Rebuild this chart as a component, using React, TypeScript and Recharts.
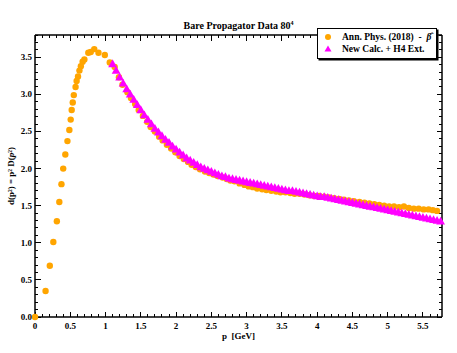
import { ScatterChart, Scatter, XAxis, YAxis, Legend, Label } from 'recharts';

const FONT = '"Liberation Serif", "Times New Roman", serif';
const ORANGE = '#FFA500';
const MAGENTA = '#FF00FF';

// Ann. Phys. (2018) - beta hat
const annMomentum = [
  0, 0.15, 0.21, 0.26, 0.31, 0.345, 0.375, 0.4, 0.43, 0.46, 0.487, 0.506, 0.52, 0.535, 0.55, 0.575,
  0.59, 0.61, 0.63, 0.65, 0.675, 0.7, 0.756, 0.79, 0.84, 0.9, 0.99, 1.06, 1.13, 1.19, 1.24, 1.31,
  1.36, 1.42, 1.47, 1.53, 1.59, 1.64, 1.7, 1.76, 1.81, 1.87, 1.93, 1.99, 2.05, 2.11, 2.17, 2.22,
  2.28, 2.34, 2.41, 2.47, 2.53, 2.59, 2.66, 2.72, 2.77, 2.83, 2.9, 2.97, 3.03, 3.09, 3.15, 3.22,
  3.28, 3.35, 3.42, 3.48, 3.55, 3.62, 3.68, 3.75, 3.82, 3.89, 3.96, 4.03, 4.1, 4.17, 4.24, 4.31,
  4.38, 4.45, 4.52, 4.6, 4.67, 4.74, 4.81, 4.88, 4.95, 5.02, 5.09, 5.16, 5.23, 5.3, 5.37, 5.44,
  5.51, 5.58, 5.64, 5.7,
];
const annDressing = [
  0, 0.35, 0.69, 1.01, 1.29, 1.55, 1.79, 2.0, 2.19, 2.37, 2.52, 2.66, 2.79, 2.89, 2.99, 3.1,
  3.18, 3.24, 3.32, 3.38, 3.44, 3.47, 3.56, 3.57, 3.61, 3.56, 3.53, 3.43, 3.37, 3.23, 3.13, 3.03,
  2.95, 2.87, 2.79, 2.71, 2.63, 2.56, 2.5, 2.43, 2.38, 2.32, 2.27, 2.22, 2.17, 2.13, 2.09, 2.05,
  2.02, 1.99, 1.96, 1.94, 1.92, 1.9, 1.88, 1.86, 1.84, 1.83, 1.8, 1.78, 1.76, 1.75, 1.73, 1.72,
  1.71, 1.7, 1.69, 1.68, 1.68, 1.67, 1.66, 1.66, 1.65, 1.64, 1.63, 1.63, 1.62, 1.61, 1.6, 1.59,
  1.58, 1.57, 1.56, 1.55, 1.54, 1.53, 1.52, 1.51, 1.5, 1.49, 1.49, 1.48, 1.49, 1.47, 1.46, 1.46,
  1.45, 1.45, 1.44, 1.43,
];

// New Calc. + H4 Ext.
const newMomentum = [
  1.1, 1.15, 1.2, 1.25, 1.3, 1.35, 1.4, 1.45, 1.5, 1.55, 1.6, 1.65, 1.7, 1.75, 1.8, 1.85, 1.9, 1.95,
  2.0, 2.05, 2.1, 2.15, 2.2, 2.25, 2.3, 2.35, 2.4, 2.45, 2.5, 2.55, 2.6, 2.65, 2.7, 2.75, 2.8, 2.85,
  2.9, 2.95, 3.0, 3.05, 3.1, 3.15, 3.2, 3.25, 3.3, 3.35, 3.4, 3.45, 3.5, 3.55, 3.6, 3.65, 3.7, 3.75,
  3.8, 3.85, 3.9, 3.95, 4.0, 4.05, 4.1, 4.15, 4.2, 4.25, 4.3, 4.35, 4.4, 4.45, 4.5, 4.55, 4.6, 4.65,
  4.7, 4.75, 4.8, 4.85, 4.9, 4.95, 5.0, 5.05, 5.1, 5.15, 5.2, 5.25, 5.3, 5.35, 5.4, 5.45, 5.5, 5.55,
  5.6, 5.65, 5.7, 5.75,
];
const newDressing = [
  3.41, 3.32, 3.23, 3.15, 3.07, 3.0, 2.93, 2.86, 2.79, 2.72, 2.66, 2.6, 2.54, 2.49, 2.44, 2.39, 2.35, 2.3,
  2.26, 2.22, 2.18, 2.14, 2.11, 2.08, 2.05, 2.02, 2.0, 1.98, 1.96, 1.94, 1.92, 1.9, 1.89, 1.87, 1.86, 1.85,
  1.84, 1.83, 1.82, 1.81, 1.8, 1.79, 1.78, 1.77, 1.76, 1.75, 1.74, 1.73, 1.72, 1.71, 1.7, 1.7, 1.69, 1.68,
  1.67, 1.66, 1.65, 1.64, 1.63, 1.62, 1.62, 1.61, 1.6, 1.59, 1.58, 1.57, 1.56, 1.55, 1.54, 1.53, 1.52, 1.51,
  1.5, 1.49, 1.48, 1.47, 1.46, 1.45, 1.44, 1.43, 1.42, 1.41, 1.4, 1.39, 1.38, 1.37, 1.36, 1.35, 1.34, 1.33,
  1.32, 1.31, 1.3, 1.29,
];

const xMajorTicks = [0, 0.5, 1, 1.5, 2, 2.5, 3, 3.5, 4, 4.5, 5, 5.5];
const yMajorTicks = [0, 0.5, 1, 1.5, 2, 2.5, 3, 3.5];
const X_MAX = 5.77;
const Y_MAX = 3.8;

// minor ticks every 0.1
const minorSteps = (max: number) => {
  const out: number[] = [];
  for (let i = 0; i * 0.1 <= max + 1e-9; i++) out.push(Math.round(i) / 10);
  return out;
};
const xTicks = minorSteps(X_MAX);
const yTicks = minorSteps(Y_MAX);

const annData = annMomentum.map((p, i) => ({ p, d: annDressing[i] }));
const newData = newMomentum.map((p, i) => ({ p, d: newDressing[i] }));

const isMajor = (v: number, majors: number[]) => majors.some((m) => Math.abs(m - v) < 1e-6);

type Side = 'bottom' | 'top' | 'left' | 'right';

// tick labels (major values only)
const makeTick = (side: Side, majors: number[], fmt: (v: number) => string) => (props: any) => {
  const { payload } = props;
  const x = Number(props.x);
  const y = Number(props.y);
  if (!isMajor(payload.value, majors)) return <g />;
  if (side === 'bottom')
    return (
      <text x={x} y={y + 12} textAnchor="middle" fontSize={9} fontWeight="bold" fontFamily={FONT} fill="#000">
        {fmt(payload.value)}
      </text>
    );
  return (
    <text x={x - 3} y={y + 3} textAnchor="end" fontSize={9} fontWeight="bold" fontFamily={FONT} fill="#000">
      {fmt(payload.value)}
    </text>
  );
};

// inward tick marks, drawn along the axis box that Recharts hands to the label
const tickMarks = (side: Side, vb: any) => {
  const vals = side === 'bottom' || side === 'top' ? xTicks : yTicks;
  const majors = side === 'bottom' || side === 'top' ? xMajorTicks : yMajorTicks;
  return (
    <g stroke="#000" strokeWidth={1} shapeRendering="crispEdges">
      {vals.map((v) => {
        const len = isMajor(v, majors) ? 5.5 : 3;
        if (side === 'bottom' || side === 'top') {
          const x = vb.x + (v / X_MAX) * vb.width;
          const y0 = side === 'bottom' ? vb.y : vb.y + vb.height;
          const y1 = side === 'bottom' ? y0 - len : y0 + len;
          return <line key={v} x1={x} x2={x} y1={y0} y2={y1} />;
        }
        const y = vb.y + vb.height - (v / Y_MAX) * vb.height;
        const x0 = side === 'left' ? vb.x + vb.width : vb.x;
        const x1 = side === 'left' ? x0 + len : x0 - len;
        return <line key={v} x1={x0} x2={x1} y1={y} y2={y} />;
      })}
    </g>
  );
};

const Circle = (props: any) => <circle cx={props.cx} cy={props.cy} r={3.2} fill={ORANGE} />;

const Triangle = (props: any) => {
  const { cx, cy } = props;
  return <polygon points={`${cx},${cy - 4.6} ${cx - 4.4},${cy + 3.2} ${cx + 4.4},${cy + 3.2}`} fill={MAGENTA} />;
};

const LegendBox = () => (
  <div
    style={{
      width: 118,
      height: 27,
      border: '1px solid #000',
      boxShadow: '1.5px 1.5px 0 #000',
      background: '#fff',
      fontFamily: FONT,
      fontWeight: 'bold',
      fontSize: 9.5,
      lineHeight: '12px',
      padding: '2px 0 0 0',
      boxSizing: 'content-box',
    }}
  >
    <div style={{ display: 'flex', alignItems: 'center', height: 12 }}>
      <svg width={24} height={12}>
        <circle cx={10} cy={6} r={3} fill={ORANGE} />
      </svg>
      <span style={{ whiteSpace: 'pre' }}>
        Ann. Phys. (2018)  -  <i>β̂</i>
      </span>
    </div>
    <div style={{ display: 'flex', alignItems: 'center', height: 12 }}>
      <svg width={24} height={12}>
        <polygon points="10,2.5 6.5,8.5 13.5,8.5" fill={MAGENTA} />
      </svg>
      <span>New Calc. + H4 Ext.</span>
    </div>
  </div>
);

const axisLine = { stroke: '#000', strokeWidth: 1.5 };

export default function App() {
  return (
    <div style={{ position: 'absolute', left: 0, top: 0, width: 457, height: 353, background: '#fff' }}>
      <ScatterChart width={457} height={353} margin={{ top: 34, right: 14, bottom: 0, left: 0 }}>
        <XAxis
          dataKey="p"
          type="number"
          domain={[0, X_MAX]}
          ticks={xTicks}
          interval={0}
          height={36}
          tickSize={0}
          tickMargin={0}
          tickLine={false}
          axisLine={axisLine}
          tick={makeTick('bottom', xMajorTicks, (v) => String(v))}
        >
          <Label
            content={(p: any) => {
              const vb = p.viewBox;
              return (
                <g>
                  {tickMarks('bottom', vb)}
                  <text x={vb.x + vb.width / 2} y={vb.y + 22} textAnchor="middle" fontSize={9} fontWeight="bold" fontFamily={FONT} style={{ whiteSpace: 'pre' }}>
                    {'p  [GeV]'}
                  </text>
                </g>
              );
            }}
          />
        </XAxis>
        <XAxis
          xAxisId="top"
          dataKey="p"
          orientation="top"
          type="number"
          domain={[0, X_MAX]}
          ticks={xTicks}
          interval={0}
          height={1}
          tickSize={0}
          tickMargin={0}
          tickLine={false}
          tick={false}
          axisLine={axisLine}
        >
          <Label
            content={(p: any) => {
              const vb = p.viewBox;
              return (
                <g>
                  {tickMarks('top', vb)}
                  <text x={vb.x + vb.width / 2} y={vb.y - 5} textAnchor="middle" fontSize={10} fontWeight="bold" fontFamily={FONT}>
                    Bare Propagator Data 80
                    <tspan dy={-4} fontSize={6}>4</tspan>
                  </text>
                </g>
              );
            }}
          />
        </XAxis>
        <YAxis
          dataKey="d"
          type="number"
          domain={[0, Y_MAX]}
          ticks={yTicks}
          interval={0}
          width={35}
          tickSize={0}
          tickMargin={0}
          tickLine={false}
          axisLine={axisLine}
          tick={makeTick('left', yMajorTicks, (v) => v.toFixed(1))}
        >
          <Label
            content={(p: any) => {
              const vb = p.viewBox;
              const cx = vb.x + 11;
              const cy = vb.y + vb.height / 2;
              return (
                <g>
                  {tickMarks('left', vb)}
                  <text
                    x={cx}
                    y={cy}
                    transform={`rotate(-90 ${cx} ${cy})`}
                    textAnchor="middle"
                    dominantBaseline="central"
                    fontSize={9}
                    fontWeight="bold"
                    fontFamily={FONT}
                  >
                    d(p²) = p² D(<tspan fontStyle="italic">p</tspan>²)
                  </text>
                </g>
              );
            }}
          />
        </YAxis>
        <YAxis
          yAxisId="right"
          dataKey="d"
          orientation="right"
          type="number"
          domain={[0, Y_MAX]}
          ticks={yTicks}
          interval={0}
          width={1}
          tickSize={0}
          tickMargin={0}
          tickLine={false}
          tick={false}
          axisLine={axisLine}
        >
          <Label content={(p: any) => tickMarks('right', p.viewBox)} />
        </YAxis>
        <Scatter name="Ann. Phys. (2018) - β̂" data={annData} shape={Circle} isAnimationActive={false} />
        <Scatter
          name="New Calc. + H4 Ext."
          data={newData}
          xAxisId="top"
          yAxisId="right"
          shape={Triangle}
          isAnimationActive={false}
        />
        <Legend
          layout="vertical"
          align="center"
          verticalAlign="middle"
          content={() => <LegendBox />}
          wrapperStyle={{ left: 317, top: 28, width: 120, height: 30 }}
        />
      </ScatterChart>
    </div>
  );
}
